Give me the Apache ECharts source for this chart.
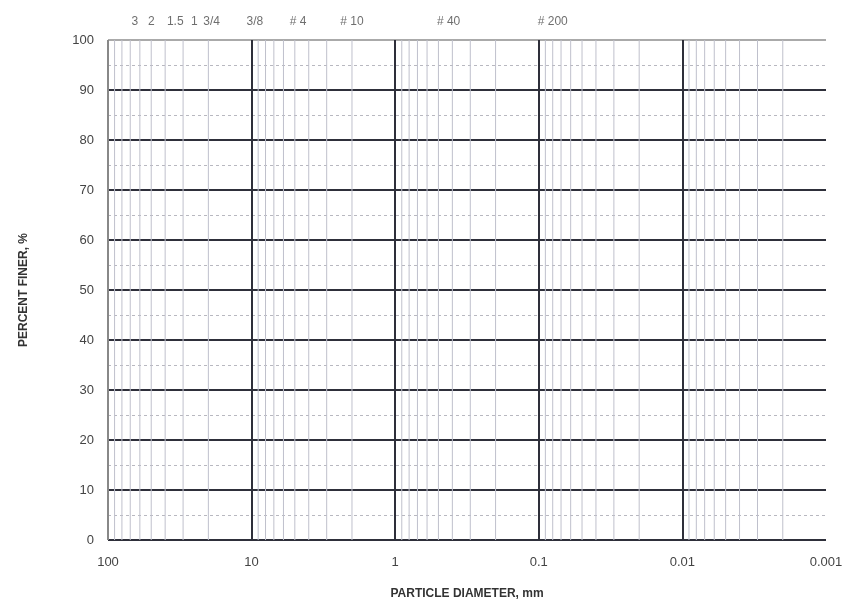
<!DOCTYPE html>
<html><head><meta charset="utf-8">
<script src="https://cdn.jsdelivr.net/npm/echarts@6/dist/echarts.min.js"></script>
<style>html,body{margin:0;padding:0;background:#fff}#c{width:856px;height:612px}</style>
</head><body><div id="c"></div>
<script>
// x-axis decade tick labels (mm)
const xTicks = [100, 10, 1, 0.1, 0.01, 0.001];
// y-axis tick labels (%)
const yTicks = [0, 10, 20, 30, 40, 50, 60, 70, 80, 90, 100];
// sieve designations printed above the chart and the diameters (mm) where they sit
const sieveLabels = ['3', '2', '1.5', '1', '3/4', '3/8', '# 4', '# 10', '# 40', '# 200'];
const sieveLabelPos = [65, 50, 34, 25, 19, 9.5, 4.75, 2.0, 0.425, 0.08];

// log-scale minor grid values (2..9 in each decade)
const minorX = [];
[0.001, 0.01, 0.1, 1, 10].forEach(d => { for (let k = 2; k <= 9; k++) minorX.push(+(d * k).toPrecision(3)); });

const chart = echarts.init(document.getElementById('c'), null, {renderer: 'canvas'});
const font = 'Liberation Sans, Arial, sans-serif';
const dark = '#2e2f3a';
const minorSeries = minorX.map(v => ({
  type: 'line', silent: true, symbol: 'none', z: 1,
  lineStyle: {color: '#bfc0cc', width: 1},
  data: [[v, 0], [v, 100]]
}));
chart.setOption({
  backgroundColor: '#ffffff',
  animation: false,
  grid: {left: 108, right: 30, top: 40, bottom: 72},
  xAxis: {
    type: 'log', logBase: 10, min: 0.001, max: 100, inverse: true,
    name: 'PARTICLE DIAMETER, mm', nameLocation: 'middle', nameGap: 48,
    nameTextStyle: {fontFamily: font, fontSize: 12, fontWeight: 'bold', color: '#333'},
    axisLine: {show: false}, axisTick: {show: false},
    axisLabel: {fontFamily: font, fontSize: 13, color: '#444', margin: 16,
      formatter: v => { const m = xTicks.find(t => Math.abs(Math.log10(t) - Math.log10(v)) < 1e-6); return m === undefined ? '' : String(m); }},
    splitLine: {show: true, lineStyle: {color: ['rgba(0,0,0,0)', dark, dark, dark, dark, '#888'], width: 2}}
  },
  yAxis: {
    type: 'value', min: 0, max: 100, interval: 10,
    name: 'PERCENT FINER, %', nameLocation: 'middle', nameGap: 78, nameRotate: 90,
    nameTextStyle: {fontFamily: font, fontSize: 12, fontWeight: 'bold', color: '#333'},
    axisLine: {show: false}, axisTick: {show: false},
    axisLabel: {fontFamily: font, fontSize: 13, color: '#444', margin: 14,
      formatter: v => yTicks.includes(v) ? String(v) : ''},
    splitLine: {show: true, lineStyle: {color: [dark, dark, dark, dark, dark, dark, dark, dark, dark, dark, '#aaa'], width: 2}},
    minorTick: {show: false, splitNumber: 2},
    minorSplitLine: {show: true, lineStyle: {color: '#b8b8c0', width: 1, type: [3, 3]}}
  },
  series: minorSeries.concat([{
    type: 'scatter', symbolSize: 0, silent: true,
    data: sieveLabels.map((s, i) => ({value: [sieveLabelPos[i], 100], name: s})),
    label: {show: true, position: 'top', distance: 12, formatter: p => p.name,
      fontFamily: font, fontSize: 12, color: '#4a4a4a'}
  }])
});
</script></body></html>
